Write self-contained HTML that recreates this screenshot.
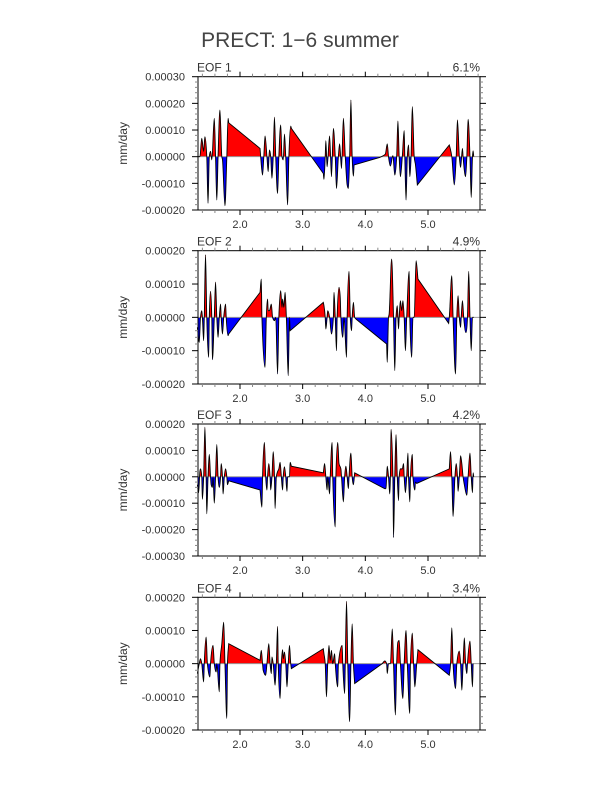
<!DOCTYPE html>
<html><head><meta charset="utf-8">
<style>
html,body{margin:0;padding:0;background:#fff;}
svg{display:block;font-family:"Liberation Sans",sans-serif;}
</style></head>
<body>
<svg id="chart" width="607" height="787" viewBox="0 0 607 787" xmlns="http://www.w3.org/2000/svg">
<text x="300" y="47" text-anchor="middle" font-size="21" fill="#444">PRECT: 1−6 summer</text>
</svg>
<script>
// values in units of 1e-4 mm/day
const eof1X = [1.32,1.36,1.39,1.42,1.44,1.47,1.49,1.51,1.53,1.55,1.59,1.61,1.63,1.65,1.68,1.71,1.72,1.76,1.79,1.81,1.82,2.32,2.33,2.36,2.38,2.40,2.43,2.45,2.47,2.49,2.51,2.53,2.55,2.57,2.60,2.62,2.65,2.67,2.69,2.71,2.73,2.76,2.78,2.81,2.82,3.33,3.34,3.36,3.37,3.39,3.43,3.46,3.49,3.52,3.54,3.57,3.59,3.62,3.65,3.68,3.71,3.73,3.75,3.77,3.79,3.81,3.82,4.23,4.28,4.32,4.35,4.37,4.40,4.44,4.47,4.50,4.52,4.54,4.56,4.59,4.62,4.63,4.65,4.67,4.69,4.71,4.73,4.75,4.78,4.80,4.83,5.34,5.35,5.38,5.42,5.45,5.47,5.50,5.52,5.55,5.56,5.60,5.62,5.64,5.67,5.69,5.71,5.72,5.73];
const eof1V = [0,0,0.69,0.2,0.75,0,-1.75,0,0.2,-0.12,1.44,0,-1.63,0,1.75,0,-0.1,-1.84,0,1.44,1.27,0.31,0,-0.69,0,0.78,0,-0.56,0.25,0,-0.81,0,1.48,0,-1.38,0,1.19,0,-0.12,0.85,0,-1.81,0,1.15,1.06,-0.63,-0.85,0,0.6,-0.38,0.78,-0.75,1.06,0,-1.19,0,0.48,-0.44,1.44,0,-1.06,-1.19,0,2.13,0,-0.73,-0.31,-0.03,0.03,0.1,0.48,0,-0.35,0.04,-0.69,0,1.34,0,-0.75,0,0.98,0,-1.63,0,0.44,-0.75,0,1.88,0,-0.3,-1.06,0.44,0.35,0,-1.06,0,1.38,0,-0.4,0.31,0,-0.75,0,1.4,0,-1.53,0,0.22,0];
const eof2X = [1.32,1.35,1.37,1.39,1.40,1.42,1.43,1.45,1.47,1.50,1.51,1.53,1.55,1.56,1.59,1.61,1.63,1.65,1.67,1.69,1.70,1.72,1.74,1.77,1.78,1.81,1.82,2.32,2.34,2.35,2.40,2.42,2.44,2.45,2.47,2.50,2.52,2.55,2.57,2.60,2.62,2.65,2.67,2.68,2.70,2.72,2.74,2.77,2.79,2.80,3.33,3.34,3.36,3.37,3.39,3.40,3.43,3.46,3.49,3.50,3.52,3.54,3.55,3.58,3.60,3.61,3.64,3.66,3.70,3.71,3.74,3.76,3.78,3.79,3.81,3.83,3.85,4.34,4.35,4.37,4.38,4.42,4.45,4.47,4.49,4.51,4.53,4.54,4.56,4.58,4.60,4.62,4.64,4.66,4.70,4.71,4.74,4.76,4.78,4.81,4.84,5.33,5.34,5.38,5.40,5.44,5.46,5.48,5.50,5.52,5.53,5.55,5.57,5.60,5.61,5.63,5.65,5.67,5.69,5.71,5.73];
const eof2V = [-0.3,-0.75,0,0.2,0,-0.7,0,1.88,0,-1.2,0,0.78,0,-1.27,0,1.06,0,-0.6,0,0.4,0,-0.5,0,0.4,0,-0.55,-0.5,0.75,1.15,0,-1.5,0,0.55,0.2,0.2,0.4,0,-0.1,0,-1.7,0,0.8,0.3,0.55,0.3,0.75,0,-1.75,0,-0.4,0.45,0.35,0,-0.35,0,0.2,0,-0.5,0,0.75,0,-1.0,0,0.9,0.6,0,-0.6,0,-1.2,0,1.38,0,-0.4,0,0.45,0,-0.05,-0.8,-1.35,0,0.1,1.75,0,-1.6,0,0.35,-0.35,0,0.5,0.2,0.5,0,-1.0,0,1.38,0,-1.2,0,0,1.7,1.15,-0.18,0,1.25,0,-1.7,0,0.65,0,-0.3,0,0.5,0,-0.45,-0.45,0,1.38,0,-1.0,0,0];
const eof3X = [1.32,1.34,1.36,1.37,1.39,1.40,1.42,1.44,1.46,1.47,1.49,1.51,1.53,1.54,1.56,1.57,1.59,1.61,1.63,1.65,1.67,1.69,1.70,1.72,1.73,1.75,1.77,1.79,1.80,1.82,2.32,2.35,2.36,2.39,2.41,2.43,2.44,2.46,2.48,2.49,2.51,2.53,2.55,2.56,2.58,2.60,2.62,2.64,2.66,2.68,2.69,2.71,2.73,2.75,2.76,2.79,2.80,2.82,3.33,3.35,3.37,3.39,3.40,3.43,3.44,3.47,3.48,3.52,3.53,3.56,3.58,3.61,3.62,3.65,3.67,3.69,3.71,3.73,3.74,3.77,3.79,3.81,3.83,4.31,4.33,4.34,4.35,4.37,4.39,4.40,4.41,4.44,4.45,4.47,4.49,4.51,4.53,4.54,4.56,4.59,4.61,4.62,4.64,4.66,4.68,4.69,4.71,4.72,4.75,4.76,4.79,4.80,4.82,5.34,5.36,5.38,5.40,5.43,5.45,5.47,5.48,5.50,5.52,5.54,5.56,5.58,5.62,5.64,5.67,5.69,5.71,5.72,5.73];
const eof3V = [-0.3,-0.6,0.2,0.3,0,-0.85,0,1.88,0,-1.4,0,0.85,0,-0.3,-0.4,0,-1.0,0,1.22,0,-0.4,0,0.5,0,-0.65,0,0.3,0,-0.3,-0.15,-0.5,-1.15,0,1.3,0,-0.5,0,0.5,0,-0.5,0,0.95,0,-1.2,0,0.2,0.3,0.55,0,-0.5,0,0.38,0,-0.55,0,0,0.55,0.4,0.15,0.5,0,-0.5,0,-0.65,0,1.3,0,-1.9,0,1.3,0.5,0.3,0,-0.95,0,0.4,0,-0.45,0,0.9,0,-0.3,0.15,-0.45,-0.45,0,0.4,0,-0.65,0,1.8,0,-2.3,0,1.6,0,-0.9,0,0.3,0.3,0.5,0,-0.6,0,0.9,0,-0.95,0,0.85,0,-0.5,-0.2,-0.25,0.3,0.95,0,-1.5,0,0.5,0,-0.55,0,0.8,0.5,0,-0.3,-0.7,0,0.9,0,-0.6,0.15,0];
const eof4X = [1.32,1.35,1.37,1.39,1.42,1.43,1.46,1.48,1.52,1.53,1.57,1.59,1.62,1.63,1.67,1.68,1.71,1.74,1.76,1.79,1.80,1.82,2.32,2.34,2.36,2.37,2.41,2.43,2.46,2.48,2.50,2.51,2.53,2.56,2.58,2.60,2.61,2.64,2.66,2.68,2.69,2.71,2.73,2.75,2.77,2.79,2.81,2.82,3.33,3.34,3.36,3.38,3.40,3.42,3.44,3.46,3.48,3.51,3.52,3.56,3.57,3.63,3.64,3.67,3.68,3.70,3.72,3.75,3.77,3.79,3.81,3.83,4.27,4.31,4.34,4.35,4.37,4.40,4.43,4.45,4.48,4.50,4.52,4.54,4.56,4.60,4.62,4.65,4.67,4.71,4.72,4.75,4.77,4.79,4.82,4.84,5.34,5.36,5.38,5.40,5.44,5.46,5.50,5.52,5.54,5.56,5.58,5.60,5.62,5.63,5.67,5.69,5.71,5.72];
const eof4V = [-0.3,0,0.15,0,-0.55,0,0.8,0,-0.4,0,0.55,0,-0.25,0,-0.85,0,0.6,1.25,0,-1.65,0,0.6,0.1,0.4,0,-0.2,-0.35,0,0.6,0,-0.3,0.2,0,-0.65,0,1.12,0,-1.05,0,0.42,0.15,0.35,0,-0.7,0,0.55,0,-0.15,0.45,0.3,0,-1.0,0,0.55,0.1,0.4,0,0.3,0,-0.7,0,0.55,0,-0.9,0,1.88,0,-1.75,0,1.2,0,-0.6,0,0.08,0,-0.3,0,0,1.05,0,-1.55,0,0.65,0.7,0,-1.05,0,1.0,0,-1.5,0,0.92,0,-0.7,0,0.42,-0.35,0,1.08,0,-0.75,0,0.38,0,-0.8,0,0.78,0,-0.3,0,0.68,0,-0.7,0];
const eofNames = ["EOF 1","EOF 2","EOF 3","EOF 4"];
const eofPct = ["6.1%","4.9%","4.2%","3.4%"];
const yMins = [-2,-2,-3,-2];
const yMaxs = [3,2,2,2];
const xTicks = [2,3,4,5];
const xTickLabels = ["2.0","3.0","4.0","5.0"];

const seriesX = [eof1X,eof2X,eof3X,eof4X];
const seriesV = [eof1V,eof2V,eof3V,eof4V];
const layout = [{t:76.7,b:210},{t:250.7,b:384},{t:424,b:556},{t:597.3,b:730}];
const L = 198, R = 480, X0 = 1.33, X1 = 5.83;
const GAP = 12; // px: longer segments are straight interpolation lines
const NS = "http://www.w3.org/2000/svg";
const svg = document.getElementById('chart');
function mk(tag, attrs, parent){
  const e = document.createElementNS(NS, tag);
  for (const k in attrs) e.setAttribute(k, attrs[k]);
  (parent||svg).appendChild(e); return e;
}
const xs = x => L + (x - X0) / (X1 - X0) * (R - L);
function fmt(v){
  const n = v * 1e-4;
  const s = Math.abs(n).toFixed(5);
  return (n < -1e-12 ? "-" : "") + s;
}
function monotonePath(P){
  const n = P.length, h = [], s = [], t = new Array(n);
  for (let i = 0; i < n-1; i++){ h[i] = P[i+1][0]-P[i][0] || 1e-6; s[i] = (P[i+1][1]-P[i][1])/h[i]; }
  const longSeg = i => i < 0 || i >= n-1 || h[i] > GAP;
  for (let i = 0; i < n; i++){
    const lL = longSeg(i-1), lR = longSeg(i);
    if (lL && lR) { t[i] = 0; continue; }
    if (lL) { t[i] = s[i]; continue; }
    if (lR) { t[i] = s[i-1]; continue; }
    const s0 = s[i-1], s1 = s[i];
    const p = (s0*h[i] + s1*h[i-1])/(h[i-1]+h[i]);
    t[i] = (Math.sign(s0)+Math.sign(s1)) * Math.min(Math.abs(s0), Math.abs(s1), 0.5*Math.abs(p)) || 0;
  }
  let d = '';
  for (let i = 0; i < n-1; i++){
    if (h[i] > GAP) { d += ' L' + P[i+1][0].toFixed(2) + ',' + P[i+1][1].toFixed(2); continue; }
    const dx = h[i]/3;
    d += ' C' + (P[i][0]+dx).toFixed(2) + ',' + (P[i][1]+t[i]*dx).toFixed(2) + ' ' +
         (P[i+1][0]-dx).toFixed(2) + ',' + (P[i+1][1]-t[i+1]*dx).toFixed(2) + ' ' +
         P[i+1][0].toFixed(2) + ',' + P[i+1][1].toFixed(2);
  }
  return d;
}
const defs = mk('defs', {});
for (let p = 0; p < 4; p++) {
  const t = layout[p].t, b = layout[p].b, ymin = yMins[p], ymax = yMaxs[p];
  const ys = v => b - (v - ymin) / (ymax - ymin) * (b - t);
  const z = ys(0);
  const g = mk('g', {});
  
  
  const cu = mk('clipPath', {id:'cu'+p}, defs); mk('rect', {x:L, y:t, width:R-L, height:z-t}, cu);
  const cd = mk('clipPath', {id:'cd'+p}, defs); mk('rect', {x:L, y:z, width:R-L, height:b-z}, cd);
  const X = seriesX[p], V = seriesV[p];
  const P = X.map((x,i) => [xs(x), ys(V[i])]);
  const curve = monotonePath(P);
  const start = 'M' + P[0][0].toFixed(2) + ',' + P[0][1].toFixed(2);
  const poly = 'M' + P[0][0].toFixed(2) + ',' + z + ' L' + P[0][0].toFixed(2) + ',' + P[0][1].toFixed(2) + curve + ' L' + P[P.length-1][0].toFixed(2) + ',' + z + ' Z';
  const pos = mk('path', {d:poly, fill:'#ff0000', 'clip-path':'url(#cu'+p+')'}, g);
  
  
  const neg = mk('path', {d:poly, fill:'#0000ff', 'clip-path':'url(#cd'+p+')'}, g);
  
  
  const zl = mk('line', {x1:L, x2:R, y1:z, y2:z, stroke:'#999', 'stroke-width':1}, g);
  
  
  const ln = mk('path', {d:start + curve, fill:'none', stroke:'#000', 'stroke-width':0.9}, g);
  
  
  const fr = mk('rect', {x:L, y:t, width:R-L, height:b-t, fill:'none', stroke:'#000', 'stroke-width':1}, g);
  
  
  for (let v = 1.4; v <= 5.81; v += 0.2) {
    const major = Math.abs(v - Math.round(v)) < 0.01;
    const x = xs(v), len = major ? 5 : 3, col = major ? '#000' : '#888';
    mk('line', {x1:x, x2:x, y1:t, y2:t-len, stroke:col, 'stroke-width':1}, g);
    mk('line', {x1:x, x2:x, y1:b, y2:b+len, stroke:col, 'stroke-width':1}, g);
  }
  xTicks.forEach((v,i) => {
    const tl = mk('text', {x:xs(v), y:b+18, 'text-anchor':'middle', 'font-size':11, fill:'#333'}, g);
    tl.textContent = xTickLabels[i];
    
    
  });
  for (let v = ymin; v <= ymax + 1e-6; v += 0.2) {
    const major = Math.abs(v - Math.round(v)) < 0.01;
    const y = ys(v), len = major ? 6 : 3, col = major ? '#000' : '#888';
    mk('line', {x1:L, x2:L-len, y1:y, y2:y, stroke:col, 'stroke-width':1}, g);
    mk('line', {x1:R, x2:R+len, y1:y, y2:y, stroke:col, 'stroke-width':1}, g);
  }
  for (let v = ymin; v <= ymax; v++) {
    const yl = mk('text', {x:185, y:ys(v)+4, 'text-anchor':'end', 'font-size':11, fill:'#333'}, g);
    yl.textContent = fmt(v);
    
    
  }
  const yt = mk('text', {x:0, y:0, 'text-anchor':'middle', 'font-size':12, fill:'#333', transform:'translate(127,'+((t+b)/2)+') rotate(-90)'}, g);
  yt.textContent = 'mm/day';
  
  
  const nm = mk('text', {x:L-1, y:t-5, 'font-size':12, fill:'#333'}, g);
  nm.textContent = eofNames[p];
  
  
  const pc = mk('text', {x:R, y:t-5, 'text-anchor':'end', 'font-size':12, fill:'#333'}, g);
  pc.textContent = eofPct[p];
  
  
}
</script>
</body></html>
